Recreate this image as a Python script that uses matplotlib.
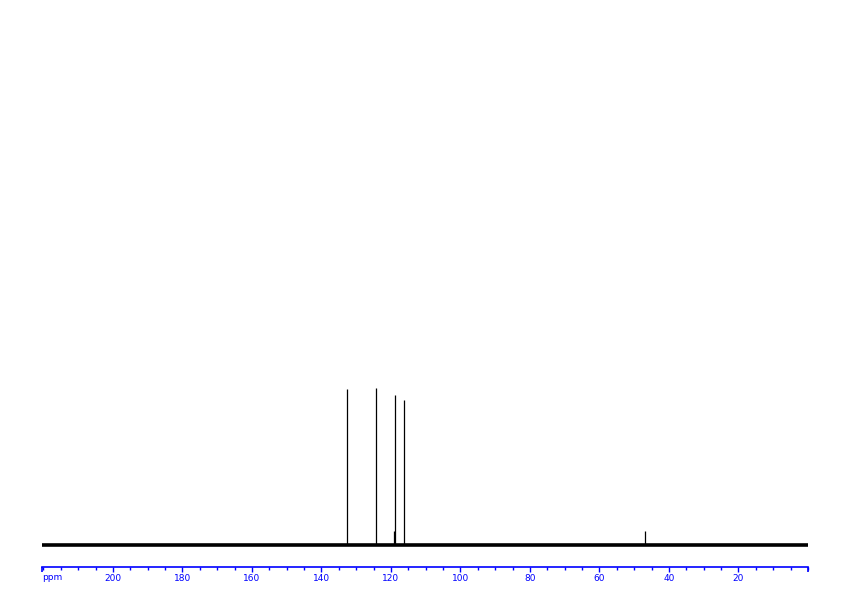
import matplotlib
matplotlib.use("Agg")
import matplotlib.pyplot as plt
from matplotlib.ticker import MultipleLocator

# Peak list (ppm, height above baseline)
peak_ppm = [132.7, 124.2, 119.0, 118.7, 116.2, 46.8]
peak_height = [156, 157, 14, 150, 145, 14]

# Axis labelling
major_ticks = [200, 180, 160, 140, 120, 100, 80, 60, 40, 20]
ppm_left = 220.4
ppm_right = 0.0

fig = plt.figure(figsize=(8.42, 5.96), dpi=100)
ax = fig.add_axes([42 / 842, 29 / 596, 766 / 842, 557 / 596])

# Baseline (noise band) and the peak sticks
ax.plot([ppm_left, ppm_right], [0, 0], color="black", lw=2.6,
        solid_capstyle="butt")
ax.vlines(peak_ppm, 0, peak_height, color="black", lw=0.9)

ax.set_xlim(ppm_left, ppm_right)
ax.set_ylim(-22, 535)

# Only the blue bottom scale is visible
for side in ["top", "left", "right"]:
    ax.spines[side].set_visible(False)
ax.spines["bottom"].set_color("blue")
ax.spines["bottom"].set_linewidth(1.2)
ax.set_yticks([])

ax.set_xticks(major_ticks)
ax.set_xticklabels([str(t) for t in major_ticks])
ax.xaxis.set_minor_locator(MultipleLocator(5))
ax.tick_params(axis="x", which="major", direction="out", length=3.5,
               width=1, color="blue", labelcolor="blue", labelsize=6.5,
               pad=1.5)
ax.tick_params(axis="x", which="minor", direction="out", length=2,
               width=1, color="blue")

# End ticks and unit label
ax.vlines([ppm_left, ppm_right], -22 - 4.5, -22, color="blue", lw=1.2,
          clip_on=False)
ax.text(ppm_left, -22 - 10, "ppm", color="blue", fontsize=6.5,
        ha="left", va="center")

fig.savefig("out.png", dpi=100)
